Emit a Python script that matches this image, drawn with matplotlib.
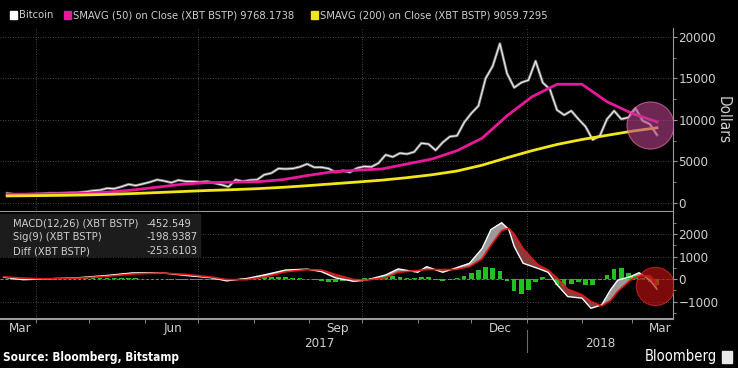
import matplotlib
matplotlib.use('Agg')
import matplotlib.pyplot as plt
import matplotlib.dates as mdates
from matplotlib.patches import Rectangle
from matplotlib.transforms import blended_transform_factory
import numpy as np
import pandas as pd

plt.rcParams['font.family'] = ['Liberation Sans Narrow', 'DejaVu Sans Condensed',
                               'DejaVu Sans']
plt.rcParams['font.stretch'] = 'condensed'

# Bitcoin close (XBT BSTP), sampled every 4 days from 2017-03-16
price = [1170, 1040, 935, 1045,
         1080, 1130, 1180, 1170, 1200, 1240, 1260, 1340,
         1480, 1550, 1770, 1720, 1960, 2250, 2100, 2300,
         2520, 2800, 2650, 2450, 2750, 2600, 2580,
         2500, 2600, 2400, 2200, 1950, 2800, 2600, 2750,
         2800, 3400, 3600, 4150, 4100, 4150, 4350, 4700,
         4300, 4300, 4150, 3700, 3900, 3700, 4200,
         4400, 4350, 4800, 5800, 5550, 6000, 5900, 6150,
         7200, 7100, 6350, 7300, 8000, 8100, 9700,
         10800, 11700, 15000, 16500, 19200, 15600, 13900, 14500,
         14800, 17100, 14500, 13700, 11200, 10600, 11100, 10100,
         9200, 7600, 8100, 10100, 11100, 10100, 10300,
         11400, 9900, 9500, 8200]

# Diff (MACD - Sig), same 4-day sampling
diff = [-20, -30, -40, -20,
        0, 10, 10, 10, 20, 20, 30, 30,
        40, 50, 50, 60, 60, 50, 40, 20,
        20, 10, -10, -30, -40, -50, -60,
        -50, -40, -50, -60, -40, 10, 40, 60,
        70, 100, 110, 100, 70, 40, 30, 20,
        -40, -80, -120, -150, -110, -60, -10,
        30, 60, 100, 130, 140, 110, 60, 30,
        70, 80, -60, -110, -40, 40, 150,
        250, 400, 550, 480, 350, -100, -550, -650,
        -500, -150, 80, -60, -250, -300, -200, -150,
        -250, -280, -50, 200, 450, 500, 250,
        120, 60, -120, -254]

# moving averages, sampled every 14 days from 2017-03-16
sma50 = [1050, 1080, 1100, 1150, 1300, 1550, 1900, 2250, 2450, 2500,
         2550, 2800, 3300, 3750, 3950, 4100, 4700, 5300, 6300, 7800,
         10500, 12800, 14300, 14300, 12200, 10800, 9768]
sma200 = [850, 880, 910, 960, 1030, 1130, 1250, 1380, 1500, 1600,
          1720, 1880, 2080, 2300, 2520, 2750, 3050, 3400, 3850, 4550,
          5450, 6300, 7050, 7650, 8150, 8650, 9059]

macd_dates = ['2017-03-14', '2017-03-25', '2017-04-05', '2017-04-25',
              '2017-05-10', '2017-05-25', '2017-06-10', '2017-06-25',
              '2017-07-08', '2017-07-17', '2017-07-28', '2017-08-08',
              '2017-08-19', '2017-08-31', '2017-09-08', '2017-09-16',
              '2017-09-26', '2017-10-03', '2017-10-14', '2017-10-21',
              '2017-11-01', '2017-11-06', '2017-11-15', '2017-11-22',
              '2017-11-30', '2017-12-07', '2017-12-12', '2017-12-18',
              '2017-12-22', '2017-12-25', '2017-12-30', '2018-01-07',
              '2018-01-13', '2018-01-18', '2018-01-24', '2018-02-01',
              '2018-02-06', '2018-02-12', '2018-02-17', '2018-02-21',
              '2018-02-28', '2018-03-05', '2018-03-11', '2018-03-15']
macd = [80, -30, 0, 60, 150, 270, 280, 150, 60, -80, 20, 200,
        400, 440, 330, 50, -100, -50, 180, 450, 300, 550, 300, 480,
        700, 1350, 2200, 2500, 2200, 1450, 700, 480, 300, -250,
        -780, -850, -1300, -1150, -480, -50, 100, 280, -50, -452.549]
sig = [100, 40, 10, 40, 110, 220, 270, 200, 90, -20, -30, 100,
       320, 420, 400, 200, -20, -50, 60, 300, 380, 420, 420, 420,
       550, 900, 1500, 2150, 2250, 2000, 1350, 650, 400, 50,
       -450, -700, -1000, -1200, -950, -550, -50, 130, 150, -198.9387]

d4 = pd.date_range('2017-03-16', periods=len(price), freq='4D')
d14 = pd.date_range('2017-03-16', periods=len(sma50), freq='14D')
dm = pd.to_datetime(macd_dates)
macd = np.array(macd)
sig = np.array(sig)

bg = 'black'
txt = '#d0d0d0'
grid = '#5a5a5a'
magenta = '#e8189a'
yellow = '#f2e51c'
fs = 8

fig = plt.figure(figsize=(7.38, 3.68), dpi=100, facecolor=bg)
ax = fig.add_axes([0, 0.424, 0.912, 0.5])
ax2 = fig.add_axes([0, 0.133, 0.912, 0.291], sharex=ax)

for a in (ax, ax2):
    a.set_facecolor(bg)
    for s in ('top', 'left'):
        a.spines[s].set_visible(False)
    a.spines['right'].set_color('#9a9a9a')
    a.spines['bottom'].set_color('#9a9a9a')
    a.spines['bottom'].set_linewidth(1.5)
    a.yaxis.tick_right()
    a.tick_params(axis='y', colors='#9a9a9a', labelcolor=txt,
                  labelsize=9.5, length=3, pad=1)
    a.tick_params(axis='y', which='minor', colors='#9a9a9a', length=2)
    for q in pd.date_range('2017-04-01', '2018-03-01', freq='QS'):
        a.axvline(q, color=grid, lw=0.6, ls=(0, (1, 2)), zorder=0)

# top panel
ax.plot(d4, price, color='#7a7a7a', lw=2.0, zorder=2)
ax.plot(d4, price, color='#f0f0f0', lw=0.8, zorder=3)
ax.plot(d14, sma50, color=magenta, lw=2.0, zorder=4)
ax.plot(d14, sma200, color=yellow, lw=2.0, zorder=4)
ax.scatter([d4[-1] - pd.Timedelta(days=4)], [(sma50[-1] + sma200[-1]) / 2],
           s=1150, color='#b8408a', alpha=0.6, edgecolor='#ff7ac8',
           linewidth=0.8, zorder=5)
ax.set_ylim(-1084, 21084)
ax.set_yticks([0, 5000, 10000, 15000, 20000])
ax.set_yticks(np.arange(0, 21000, 2500), minor=True)
ax.yaxis.grid(True, color=grid, lw=0.6, ls=(0, (1, 2)))
ax.tick_params(axis='x', which='both', length=0, labelbottom=False)
ax.yaxis.set_label_position('right')
ax.set_ylabel('Dollars', rotation=270, color=txt, fontsize=11, labelpad=10)

# bottom panel
ax2.fill_between(dm, macd, sig, where=macd >= sig, interpolate=True,
                 color='#9a9a9a', lw=0, zorder=2)
ax2.fill_between(dm, macd, sig, where=macd < sig, interpolate=True,
                 color='#8a3a3a', lw=0, zorder=2)
ax2.bar(d4, diff, width=2.6, color='#22c022', zorder=3)
ax2.plot(dm, macd, color='white', lw=1.0, zorder=4)
ax2.plot(dm, sig, color='#e01818', lw=1.2, zorder=4)
ax2.scatter([dm[-1] - pd.Timedelta(days=1)], [(macd[-1] + sig[-1]) / 2],
            s=760, color='#c01010', alpha=0.65, edgecolor='#e03030',
            linewidth=0.8, zorder=5)
ax2.set_ylim(-1778, 2978)
ax2.set_yticks([-1000, 0, 1000, 2000])
ax2.set_yticks(np.arange(-1500, 3000, 500), minor=True)
ax2.yaxis.grid(True, color=grid, lw=0.6, ls=(0, (1, 2)))
ax2.axhline(0, color='#8a8a8a', lw=0.7, ls=(0, (3, 2)), zorder=1)

ax2.set_xlim(pd.Timestamp('2017-03-12'), pd.Timestamp('2018-03-24'))
ax2.xaxis.set_major_locator(mdates.MonthLocator(bymonth=[3, 6, 9, 12],
                                                bymonthday=17))
ax2.xaxis.set_major_formatter(mdates.DateFormatter('%b'))
ax2.xaxis.set_minor_locator(mdates.MonthLocator())
ax2.tick_params(axis='x', which='major', length=0, labelcolor=txt,
                labelsize=9.5, pad=2)
ax2.tick_params(axis='x', which='minor', length=3, color='#9a9a9a')

bt = blended_transform_factory(ax2.transData, ax2.transAxes)
ax2.text(pd.Timestamp('2017-09-07'), -0.225, '2017', transform=bt,
         color=txt, fontsize=9.5, ha='center', va='center')
ax2.text(pd.Timestamp('2018-02-11'), -0.225, '2018', transform=bt,
         color=txt, fontsize=9.5, ha='center', va='center')
ax2.plot([pd.Timestamp('2018-01-01')] * 2, [-0.10, -0.31], transform=bt,
         color='#6a6a6a', lw=0.8, clip_on=False)

# top legend
def swatch(x, y, c, w=7, h=7):
    fig.patches.append(Rectangle((x / 738, 1 - (y + h / 2) / 368), w / 738,
                                 h / 368, transform=fig.transFigure,
                                 color=c, figure=fig))

swatch(10, 15, 'white')
fig.text(19 / 738, 1 - 15 / 368, 'Bitcoin', color=txt, fontsize=fs,
         va='center')
swatch(64, 15, magenta)
fig.text(73 / 738, 1 - 15 / 368,
         'SMAVG (50) on Close (XBT BSTP) 9768.1738', color=txt,
         fontsize=fs, va='center')
swatch(311, 15, yellow)
fig.text(320 / 738, 1 - 15 / 368,
         'SMAVG (200) on Close (XBT BSTP) 9059.7295', color=txt,
         fontsize=fs, va='center')

# bottom legend box
fig.patches.append(Rectangle((0, 1 - 256 / 368), 200 / 738, 42 / 368,
                             transform=fig.transFigure, color='#1c1c1c',
                             zorder=6, figure=fig))
rows = [('MACD(12,26) (XBT BSTP)', '-452.549', 'white'),
        ('Sig(9) (XBT BSTP)', '-198.9387', '#e01818'),
        ('Diff (XBT BSTP)', '-253.6103', '#22d022')]
for i, (lab, val, c) in enumerate(rows):
    y = 224 + 13.5 * i
    swatch(4, y, c)
    fig.text(13 / 738, 1 - y / 368, lab, color=txt, fontsize=fs,
             va='center', zorder=7)
    fig.text(147 / 738, 1 - y / 368, val, color=txt, fontsize=fs,
             va='center', zorder=7)

# footer
fig.text(3 / 738, 10 / 368, 'Source: Bloomberg, Bitstamp', color='white',
         fontsize=8.5, fontweight='bold', va='center')
fig.text(717 / 738, 11 / 368, 'Bloomberg', color='white', fontsize=10.5,
         ha='right', va='center')
fig.patches.append(Rectangle((722 / 738, 5 / 368), 10 / 738, 12 / 368,
                             transform=fig.transFigure, color='#e8e8e8',
                             figure=fig))

# keep the first "Mar" label inside the figure
fig.canvas.draw()
first = ax2.xaxis.get_majorticklabels()[0]
first.set_horizontalalignment('left')

fig.savefig('out.png', dpi=100, facecolor=bg)
